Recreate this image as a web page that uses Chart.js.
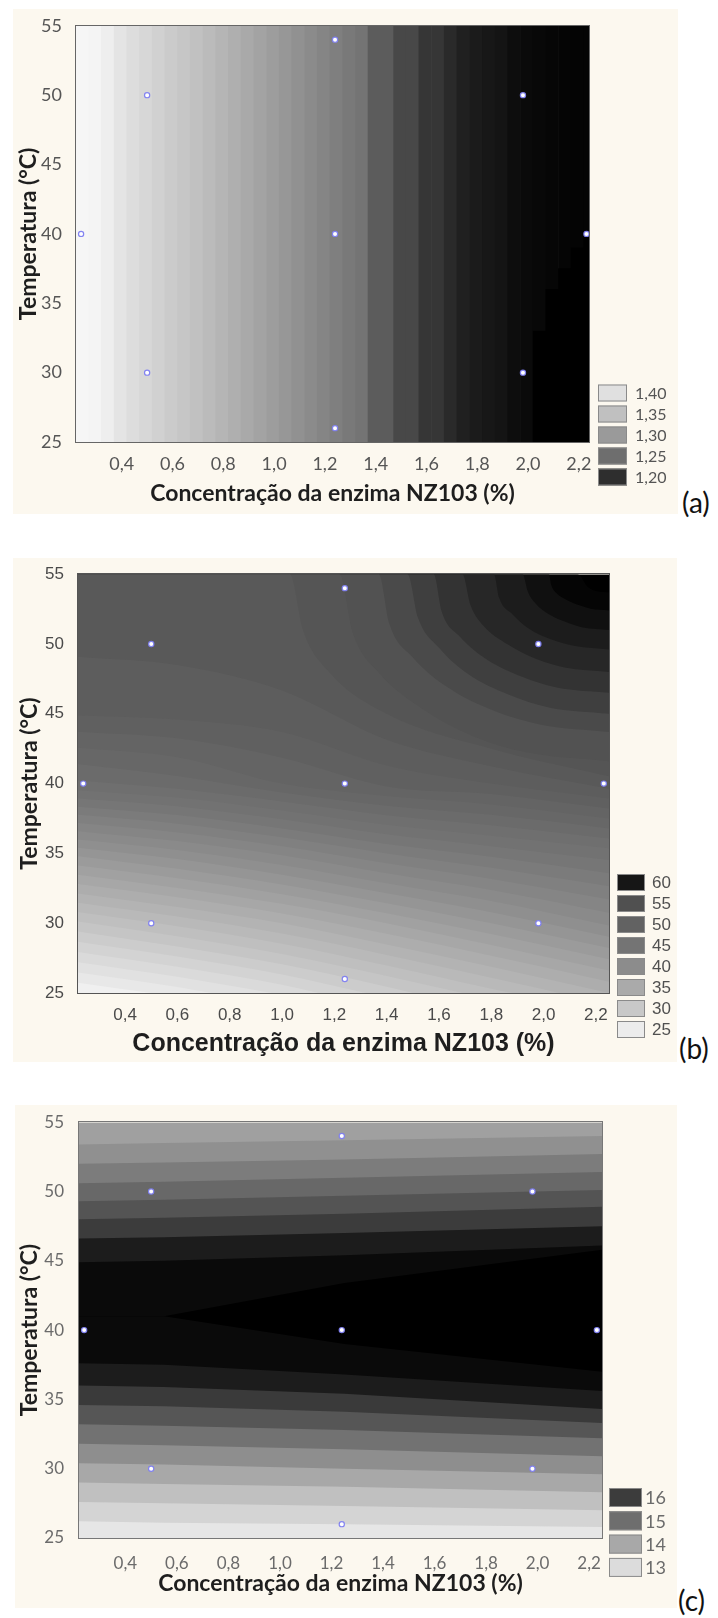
<!DOCTYPE html>
<html>
<head>
<meta charset="utf-8">
<script src="https://cdn.jsdelivr.net/npm/chart.js@4.4.1/dist/chart.umd.min.js"></script>
<style>
html, body { margin: 0; padding: 0; background: #ffffff; }
body { width: 718px; height: 1618px; position: relative; overflow: hidden; }
.panel { position: absolute; background: #fcf8ef; }
.panel canvas { display: block; }
.tag { position: absolute; font-family: Lato, sans-serif; font-size: 28px; line-height: 28px; color: #111; }
</style>
</head>
<body>
<div class="panel" style="left:13px;top:9px;width:665px;height:505px"><canvas id="chartA" width="665" height="505"></canvas></div>
<div class="tag" style="left:682px;top:488px">(a)</div>
<div class="panel" style="left:13px;top:558px;width:664px;height:504px"><canvas id="chartB" width="664" height="504"></canvas></div>
<div class="tag" style="left:679px;top:1034px">(b)</div>
<div class="panel" style="left:15px;top:1105px;width:662px;height:503px"><canvas id="chartC" width="662" height="503"></canvas></div>
<div class="tag" style="left:678px;top:1586px">(c)</div>
<script>
// shared axes + design points
const xTicks = [0.4, 0.6, 0.8, 1.0, 1.2, 1.4, 1.6, 1.8, 2.0, 2.2];
const yTicks = [25, 30, 35, 40, 45, 50, 55];
const designX = [0.24, 0.5, 0.5, 1.24, 1.24, 1.24, 1.98, 1.98, 2.23];
const designY = [40, 30, 50, 26, 40, 54, 30, 50, 40];

// (a) legend levels and field, vertical strips of 0.05 %
const aLegend = [1.40, 1.35, 1.30, 1.25, 1.20];
const aColX = [0.245, 0.295, 0.345, 0.395, 0.445, 0.495, 0.545, 0.595, 0.645, 0.695,
    0.745, 0.795, 0.845, 0.895, 0.945, 0.995, 1.045, 1.095, 1.145, 1.195,
    1.245, 1.295, 1.345, 1.395, 1.445, 1.495, 1.545, 1.595, 1.645, 1.695,
    1.745, 1.795, 1.845, 1.895, 1.945, 1.995, 2.045, 2.095, 2.145, 2.195, 2.245];
const aColZ = [1.434, 1.431, 1.422, 1.406, 1.395, 1.386, 1.377, 1.367, 1.359, 1.352,
    1.343, 1.336, 1.328, 1.320, 1.312, 1.304, 1.297, 1.290, 1.283, 1.276,
    1.269, 1.263, 1.257, 1.236, 1.236, 1.220, 1.220, 1.206, 1.206, 1.197,
    1.189, 1.185, 1.182, 1.180, 1.174, 1.172, 1.170, 1.169, 1.168, 1.167, 1.167];
// darker wedge in the lower right corner
const aWedgeX = [2.045, 2.095, 2.145, 2.195, 2.245];
const aWedgeTop = [33, 36, 37.5, 39, 40];
const aWedgeZ = [1.163, 1.163, 1.163, 1.163, 1.163];

// (b) legend levels; contour lines [x, y] from low to high, last one is the top edge
const bLegend = [60, 55, 50, 45, 40, 35, 30, 25];
const bContours = [
    [[0.22, 25.74], [0.5, 25]],
    [[0.22, 26.47], [0.6, 25.43], [0.73, 25]],
    [[0.22, 27.21], [0.6, 26.16], [0.96, 25]],
    [[0.22, 27.94], [0.6, 26.88], [1.0, 25.59], [1.14, 25]],
    [[0.22, 28.68], [0.6, 27.61], [1.0, 26.32], [1.32, 25]],
    [[0.22, 29.41], [0.6, 28.33], [1.0, 27.06], [1.4, 25.45], [1.5, 25]],
    [[0.22, 30.13], [0.6, 29.06], [1.0, 27.79], [1.4, 26.21], [1.69, 25]],
    [[0.22, 30.8], [0.6, 29.78], [1.0, 28.53], [1.4, 26.97], [1.8, 25.31], [1.88, 25]],
    [[0.22, 31.47], [0.6, 30.48], [1.0, 29.26], [1.4, 27.73], [1.8, 26.09], [2.06, 25]],
    [[0.22, 32.13], [0.6, 31.16], [1.0, 30.0], [1.4, 28.48], [1.8, 26.88], [2.25, 25]],
    [[0.22, 32.8], [0.6, 31.85], [1.0, 30.69], [1.4, 29.24], [1.8, 27.66], [2.25, 25.81]],
    [[0.22, 33.47], [0.6, 32.53], [1.0, 31.39], [1.4, 30.0], [1.8, 28.44], [2.25, 26.61]],
    [[0.22, 34.13], [0.6, 33.22], [1.0, 32.08], [1.4, 30.71], [1.8, 29.22], [2.25, 27.42]],
    [[0.22, 34.8], [0.6, 33.9], [1.0, 32.78], [1.4, 31.43], [1.8, 30.0], [2.25, 28.23]],
    [[0.22, 35.41], [0.6, 34.59], [1.0, 33.47], [1.4, 32.14], [1.8, 30.79], [2.25, 29.03]],
    [[0.22, 36.0], [0.6, 35.25], [1.0, 34.17], [1.4, 32.86], [1.8, 31.59], [2.25, 29.84]],
    [[0.22, 36.59], [0.6, 35.88], [1.0, 34.86], [1.4, 33.57], [1.8, 32.38], [2.25, 30.75]],
    [[0.22, 37.18], [0.6, 36.5], [1.0, 35.51], [1.4, 34.29], [1.8, 33.17], [2.25, 31.7]],
    [[0.22, 37.76], [0.6, 37.13], [1.0, 36.15], [1.4, 35.0], [1.8, 33.97], [2.25, 32.64]],
    [[0.22, 38.35], [0.6, 37.75], [1.0, 36.79], [1.4, 35.68], [1.8, 34.76], [2.25, 33.58]],
    [[0.22, 38.94], [0.6, 38.38], [1.0, 37.44], [1.4, 36.37], [1.8, 35.52], [2.25, 34.53]],
    [[0.22, 39.53], [0.6, 39.0], [1.0, 38.08], [1.4, 37.05], [1.8, 36.27], [2.25, 35.36]],
    [[0.22, 40.23], [0.6, 39.63], [1.0, 38.72], [1.4, 37.74], [1.8, 37.01], [2.25, 36.07]],
    [[0.22, 41.4], [0.6, 40.54], [1.0, 39.36], [1.4, 38.42], [1.8, 37.76], [2.25, 36.79]],
    [[0.22, 42.56], [0.6, 41.89], [1.0, 40.0], [1.4, 39.11], [1.8, 38.51], [2.25, 37.5]],
    [[0.22, 43.72], [0.6, 43.24], [1.0, 41.85], [1.4, 39.79], [1.8, 39.25], [2.25, 38.21]],
    [[0.22, 44.88], [0.6, 44.59], [1.0, 43.7], [1.4, 41.3], [1.8, 40.0], [2.25, 38.93]],
    [[0.22, 49.09], [0.6, 48.5], [1.0, 46.67], [1.4, 43.15], [1.8, 41.25], [2.25, 39.64]],
    [[0.22, 55], [1.03, 55], [1.08, 51], [1.18, 48], [1.4, 45], [1.8, 42.5], [2.25, 40.53]],
    [[0.22, 55], [1.22, 55], [1.27, 50.82], [1.37, 47.94], [1.53, 45.43], [1.73, 43.4], [1.94, 42.22], [2.25, 41.6]],
    [[0.22, 55], [1.37, 55], [1.41, 51.47], [1.5, 49.04], [1.63, 46.93], [1.81, 45.21], [1.99, 44.22], [2.25, 43.7]],
    [[0.22, 55], [1.48, 55], [1.52, 51.88], [1.6, 49.73], [1.71, 47.86], [1.87, 46.34], [2.02, 45.46], [2.25, 45.0]],
    [[0.22, 55], [1.58, 55], [1.61, 52.35], [1.68, 50.52], [1.78, 48.93], [1.92, 47.64], [2.05, 46.89], [2.25, 46.5]],
    [[0.22, 55], [1.69, 55], [1.72, 52.82], [1.77, 51.31], [1.86, 50.0], [1.97, 48.94], [2.08, 48.32], [2.25, 48.0]],
    [[0.22, 55], [1.81, 55], [1.83, 53.32], [1.88, 52.15], [1.94, 51.14], [2.03, 50.32], [2.12, 49.85], [2.25, 49.6]],
    [[0.22, 55], [1.92, 55], [1.94, 53.75], [1.97, 52.89], [2.02, 52.14], [2.09, 51.54], [2.15, 51.18], [2.25, 51.0]],
    [[0.22, 55], [2.02, 55], [2.03, 54.19], [2.05, 53.63], [2.09, 53.14], [2.14, 52.75], [2.18, 52.52], [2.25, 52.4]],
    [[0.22, 55], [2.13, 55], [2.17, 54.07], [2.21, 53.76], [2.25, 53.7]],
    [[0.22, 55], [2.25, 55]]
];
// value of the band just under each contour line
const bBandZ = [24.5, 25.5, 26.5, 27.5, 28.5, 29.5, 30.5, 31.5, 32.5, 33.5,
    34.5, 35.5, 36.5, 37.5, 38.5, 39.5, 40.5, 41.5, 42.5, 43.5,
    44.5, 45.5, 46.5, 47.5, 48.5, 49.5, 50.5, 51.5, 52.5,
    53.5, 54.5, 55.5, 56.5, 57.5, 58.5, 59.5, 60.5, 61.5, 62.5];

// (c) legend levels; contour lines sampled at cX, bottom to top
const cLegend = [16, 15, 14, 13];
const cX = [0.22, 0.55, 1.25, 2.25];
const cContours = [
    [26.2, 26.1, 26.0, 25.8],
    [27.6, 27.5, 27.3, 27.0],
    [29.0, 28.9, 28.7, 28.3],
    [30.4, 30.3, 30.0, 29.6],
    [31.8, 31.7, 31.4, 30.9],
    [33.2, 33.1, 32.8, 32.2],
    [34.6, 34.5, 34.1, 33.3],
    [36.0, 35.9, 35.4, 34.3],
    [37.6, 37.5, 36.8, 35.6],
    [41.0, 41.0, 39.0, 37.0],
    [41.0, 41.0, 43.4, 45.8],
    [44.9, 45.0, 45.4, 46.1],
    [46.6, 46.7, 47.0, 47.5],
    [48.0, 48.1, 48.4, 48.9],
    [49.3, 49.4, 49.7, 50.1],
    [50.6, 50.7, 51.0, 51.4],
    [52.0, 52.1, 52.3, 52.7],
    [53.4, 53.5, 53.7, 54.0],
    [55, 55, 55, 55]
];
const cBandZ = [12.81, 13.15, 13.54, 14.0, 14.45, 14.93, 15.48, 16.04, 16.64, 17.0,
    17.2, 17.0, 16.64, 16.0, 15.52, 15.12, 14.76, 14.41, 14.14];

// grey used for each legend level (style)
const aGreys = [224, 192, 154, 110, 46];
const bGreys = [22, 80, 98, 116, 140, 170, 200, 236];
const cGreys = [60, 110, 168, 220];

function makeShade(levels, greys) {
    const stops = levels.map((v, i) => [v, greys[i]]).sort((p, q) => p[0] - q[0]);
    return (v) => {
        let i = 0;
        while (i < stops.length - 2 && v > stops[i + 1][0]) i++;
        const [v0, g0] = stops[i];
        const [v1, g1] = stops[i + 1];
        let g = g0 + ((v - v0) * (g1 - g0)) / (v1 - v0);
        g = Math.round(Math.max(0, Math.min(255, g)));
        return `rgb(${g},${g},${g})`;
    };
}
const shadeA = makeShade(aLegend, aGreys);
const shadeB = makeShade(bLegend, bGreys);
const shadeC = makeShade(cLegend, cGreys);

const comma = (v, d) => v.toFixed(d).replace(".", ",");

function frame(color) {
    return {
        id: "frame",
        afterDatasetsDraw(chart) {
            const a = chart.chartArea;
            const ctx = chart.ctx;
            ctx.save();
            ctx.strokeStyle = color;
            ctx.lineWidth = 1;
            ctx.strokeRect(Math.round(a.left) - 0.5, Math.round(a.top) - 0.5,
                Math.round(a.right - a.left) + 1, Math.round(a.bottom - a.top) + 1);
            ctx.restore();
        },
    };
}

function levelKey(levels, shade, k) {
    return {
        id: "levelKey",
        afterDraw(chart) {
            const ctx = chart.ctx;
            ctx.save();
            ctx.font = k.font;
            ctx.textBaseline = "middle";
            ctx.textAlign = "left";
            levels.forEach((v, i) => {
                const cy = k.top + i * k.pitch;
                ctx.fillStyle = shade(v);
                ctx.fillRect(k.left, cy - k.h / 2, k.w, k.h);
                ctx.strokeStyle = k.edge;
                ctx.lineWidth = 1;
                ctx.strokeRect(k.left + 0.5, cy - k.h / 2 + 0.5, k.w - 1, k.h - 1);
                ctx.fillStyle = k.color;
                ctx.fillText(k.fmt(v), k.left + k.w + k.gap, cy + 1);
            });
            ctx.restore();
        },
    };
}

function designPoints() {
    return {
        type: "scatter",
        order: -1,
        data: designX.map((x, i) => ({ x, y: designY[i] })),
        pointRadius: 2.6,
        pointBackgroundColor: "#ffffff",
        pointBorderColor: "rgba(125,125,240,0.95)",
        pointBorderWidth: 1.2,
        showLine: false,
    };
}

function optionsFor(s) {
    return {
        responsive: false,
        animation: false,
        events: [],
        layout: { padding: { left: 0, top: s.padTop, right: s.padRight, bottom: 0 } },
        plugins: {
            legend: { display: false },
            tooltip: { enabled: false },
            filler: { drawTime: "beforeDatasetDraw" },
        },
        scales: {
            x: {
                type: "linear",
                min: s.xMin,
                max: s.xMax,
                offset: false,
                grid: { display: false },
                border: { display: false },
                afterBuildTicks: (sc) => { sc.ticks = xTicks.map((value) => ({ value })); },
                afterFit: (sc) => { sc.height = s.xH; },
                ticks: {
                    autoSkip: false,
                    maxRotation: 0,
                    padding: s.xPad,
                    color: s.tickColor,
                    font: s.tickFont,
                    callback: (v) => comma(v, 1),
                },
                title: {
                    display: true,
                    text: "Concentração da enzima NZ103 (%)",
                    color: "#1e1e1e",
                    font: s.xTitleFont,
                    padding: { top: 0, bottom: s.xTitlePad },
                },
            },
            y: {
                type: "linear",
                min: 25,
                max: 55,
                grid: { display: false },
                border: { display: false },
                afterBuildTicks: (sc) => { sc.ticks = yTicks.map((value) => ({ value })); },
                afterFit: (sc) => { sc.width = s.yW; },
                ticks: {
                    padding: s.yPad,
                    color: s.tickColor,
                    font: s.tickFont,
                    callback: (v) => String(v),
                },
                title: {
                    display: true,
                    text: "Temperatura (°C)",
                    color: "#1e1e1e",
                    font: s.yTitleFont,
                    padding: { top: s.yTitlePad, bottom: 0 },
                },
            },
        },
    };
}

// (a) strips as floating bars
new Chart(document.getElementById("chartA"), {
    type: "bar",
    data: {
        datasets: [
            designPoints(),
            {
                order: 1,
                grouped: false,
                barPercentage: 1,
                categoryPercentage: 1,
                data: aWedgeX.map((x, i) => ({ x, y: [25, aWedgeTop[i]] })),
                backgroundColor: aWedgeZ.map(shadeA),
            },
            {
                order: 2,
                grouped: false,
                barPercentage: 1,
                categoryPercentage: 1,
                data: aColX.map((x) => ({ x, y: [25, 55] })),
                backgroundColor: aColZ.map(shadeA),
            },
        ],
    },
    options: optionsFor({
        padTop: 12, padRight: 89, yW: 63, xH: 72, xMin: 0.22, xMax: 2.24,
        xPad: 3, yPad: 6, xTitlePad: 7, yTitlePad: 2,
        tickColor: "#555555",
        tickFont: { family: "Lato", size: 18 },
        xTitleFont: { family: "Lato", size: 23, weight: "bold" },
        yTitleFont: { family: "Lato", size: 23, weight: "bold" },
    }),
    plugins: [
        frame("#666666"),
        levelKey(aLegend, shadeA, {
            left: 585, top: 384, pitch: 21, w: 29, h: 17, gap: 8,
            font: "16px Lato", color: "#555555", edge: "#8a8a8a", fmt: (v) => comma(v, 2),
        }),
    ],
});

// (b) contour bands painted from the top edge down
new Chart(document.getElementById("chartB"), {
    type: "line",
    data: {
        datasets: [
            designPoints(),
            ...bContours.map((pts, i) => ({
                data: pts.map((p) => ({ x: p[0], y: p[1] })),
                fill: "start",
                backgroundColor: shadeB(bBandZ[i]),
                borderWidth: 0,
                pointRadius: 0,
                cubicInterpolationMode: "monotone",
            })),
        ],
    },
    options: optionsFor({
        padTop: 12, padRight: 68, yW: 65, xH: 69, xMin: 0.22, xMax: 2.25,
        xPad: 4, yPad: 6, xTitlePad: 3, yTitlePad: 3,
        tickColor: "#4a4a4a",
        tickFont: { family: "Liberation Sans", size: 17 },
        xTitleFont: { family: "Liberation Sans", size: 25, weight: "bold" },
        yTitleFont: { family: "Lato", size: 23, weight: "bold" },
    }),
    plugins: [
        frame("#555555"),
        levelKey(bLegend, shadeB, {
            left: 604, top: 324.5, pitch: 21, w: 28, h: 17, gap: 7,
            font: '17px "Liberation Sans"', color: "#505050", edge: "#8a8a8a", fmt: (v) => String(v),
        }),
    ],
});

// (c) contour bands painted from the top edge down
new Chart(document.getElementById("chartC"), {
    type: "line",
    data: {
        datasets: [
            designPoints(),
            ...cContours.map((ys, i) => ({
                data: ys.map((y, j) => ({ x: cX[j], y })),
                fill: "start",
                backgroundColor: shadeC(cBandZ[i]),
                borderWidth: 0,
                pointRadius: 0,
                tension: 0,
            })),
        ],
    },
    options: optionsFor({
        padTop: 10, padRight: 75, yW: 64, xH: 70, xMin: 0.22, xMax: 2.25,
        xPad: 7, yPad: 7, xTitlePad: 11, yTitlePad: 1,
        tickColor: "#6b6b6b",
        tickFont: { family: "Lato", size: 17 },
        xTitleFont: { family: "Lato", size: 23, weight: "bold" },
        yTitleFont: { family: "Lato", size: 23, weight: "bold" },
    }),
    plugins: [
        frame("#777777"),
        levelKey(cLegend, shadeC, {
            left: 594, top: 392.5, pitch: 23.3, w: 33, h: 19, gap: 3,
            font: "18px Lato", color: "#6b6b6b", edge: "#8a8a8a", fmt: (v) => String(v),
        }),
    ],
});
</script>
</body>
</html>
